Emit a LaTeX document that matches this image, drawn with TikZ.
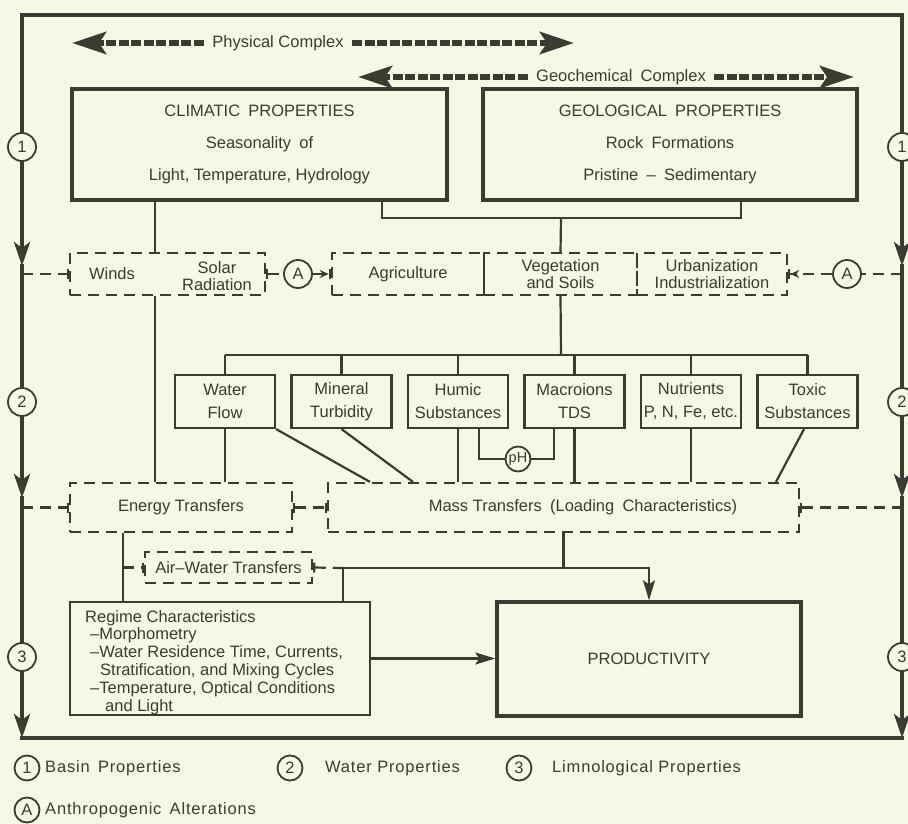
\documentclass[tikz,border=0pt]{standalone}
\usepackage{fontspec}
\setmainfont{Liberation Sans}
\usetikzlibrary{arrows.meta}
\definecolor{paper}{RGB}{246,247,229}
\definecolor{ink}{RGB}{58,60,50}
\begin{document}
\begin{tikzpicture}[x=1pt,y=-1pt,
  every node/.style={text=ink, font=\fontsize{16.5}{19}\selectfont},
  bigbox/.style={draw=ink, line width=3.4pt, inner sep=0pt, align=center, font=\fontsize{16.5}{32}\selectfont},
  smallbox/.style={draw=ink, line width=2.2pt, minimum width=100pt, minimum height=53pt, inner sep=0pt, align=center, font=\fontsize{16.5}{23}\selectfont},
  dashbox/.style={draw=ink, line width=2.2pt, dash pattern=on 11pt off 7pt, inner sep=0pt, align=center, font=\fontsize{16.5}{17}\selectfont},
  txt/.style={inner sep=0pt, align=center, font=\fontsize{16.5}{17}\selectfont},
  link/.style={draw=ink, line width=2.2pt},
  dlink/.style={link, dash pattern=on 11pt off 7pt},
  frameline/.style={draw=ink, line width=3.6pt, line cap=rect},
  badge/.style={circle, draw=ink, line width=1.8pt, fill=paper, minimum size=28pt, inner sep=0pt},
  keybadge/.style={badge, minimum size=25pt},
  bigbar/.style={draw=ink, line width=6pt, dash pattern=on 10pt off 2.5pt},
  keytext/.style={anchor=west, inner sep=0pt, font=\fontsize{16.5}{18}\selectfont\addfontfeatures{LetterSpace=5}},
  flowtip/.style={-{Stealth[length=20pt,width=12pt,inset=4pt]}},
  frametip/.style={-{Stealth[length=24pt,width=16pt,inset=6pt]}},
  bigtip/.style={-{Stealth[length=34pt,width=22pt,inset=7pt]}},
  endbar/.style={-{Bar[width=10pt]}},
  startbar/.style={{Bar[width=10pt]}-},
  bothbar/.style={{Bar[width=10pt]}-{Bar[width=10pt]}},
  arrowbar/.style={-{Stealth[length=9pt,width=8pt] Bar[width=10pt]}}
]
% paper
\fill[paper] (0,0) rectangle (908,824);
\useasboundingbox (0,0) rectangle (908,824);

% ---------- top: complexes ----------
\node (phys) at (278,43) {Physical Complex};
\coordinate (physL) at (72,43);
\coordinate (physR) at (574,43);
\draw[bigbar, bigtip] ([xshift=-5pt]phys.west) -- (physL);
\draw[bigbar, bigtip] ([xshift=5pt]phys.east) -- (physR);

\node (geoc) at (621,77) {Geochemical\enspace Complex};
\coordinate (geocL) at (358,77);
\coordinate (geocR) at (854,77);
\draw[bigbar, bigtip] ([xshift=-5pt]geoc.west) -- (geocL);
\draw[bigbar, bigtip] ([xshift=5pt]geoc.east) -- (geocR);

% ---------- property boxes ----------
\node[bigbox, minimum width=375pt, minimum height=111pt] (clim) at (259.5,144.5)
  {CLIMATIC\enspace PROPERTIES\\Seasonality\enspace of\\Light, Temperature, Hydrology};
\node[bigbox, minimum width=374pt, minimum height=111pt] (geol) at (670,144.5)
  {GEOLOGICAL\enspace PROPERTIES\\Rock\enspace Formations\\Pristine\enspace --\enspace Sedimentary};

% ---------- first dashed row ----------
\node[dashbox, minimum width=195pt, minimum height=42pt] (ws) at (167.5,274) {};
\node[txt] (winds) at (112,274) {Winds};
\node[txt] (solar) at (217,276) {Solar\\Radiation};
\node[dashbox, minimum width=152pt, minimum height=42pt] (agri) at (408,274) {Agriculture};
\node[dashbox, minimum width=153pt, minimum height=42pt] (veg) at (560.5,274) {Vegetation\\and Soils};
\node[dashbox, minimum width=150pt, minimum height=42pt] (urb) at (712,274) {Urbanization\\Industrialization};
\node[badge] (A1) at (298,274) {A};
\node[badge] (A2) at (847,274) {A};

% ---------- water property boxes ----------
\node[smallbox] (water)   at (225,401.5)   {Water\\Flow};
\node[smallbox] (mineral) at (341.5,401.5) {Mineral\\Turbidity};
\node[smallbox] (humic)   at (458,401.5)   {Humic\\Substances};
\node[smallbox] (macro)   at (574.5,401.5) {Macroions\\TDS};
\node[smallbox] (nutr)    at (691,401.5)   {Nutrients\\P, N, Fe, etc.};
\node[smallbox] (toxic)   at (807.5,401.5) {Toxic\\Substances};
\node[circle, draw=ink, line width=1.8pt, minimum size=25pt, inner sep=0pt, font=\fontsize{14.5}{16}\selectfont] (ph) at (518,459) {pH};

% ---------- transfer row ----------
\node[dashbox, minimum width=222pt, minimum height=49pt] (energy) at (181,507.5) {Energy Transfers};
\node[dashbox, minimum width=471pt, minimum height=49pt] (mass) at (563.5,507.5) {};
\node[txt] (masstxt) at (583,507.5) {Mass Transfers\enspace (Loading\enspace Characteristics)};
\node[dashbox, minimum width=167pt, minimum height=31pt] (aw) at (228.5,567.5) {Air--Water Transfers};

% ---------- lake boxes ----------
\node[draw=ink, line width=2.2pt, minimum width=300pt, minimum height=113pt, inner sep=0pt] (regime) at (220,658.5) {};
\node[anchor=north west, align=left, inner sep=0pt, font=\fontsize{16.5}{17.8}\selectfont] (regtxt) at (85,610)
  {Regime Characteristics\\
   \hspace*{5pt}--Morphometry\\
   \hspace*{5pt}--Water Residence Time, Currents,\\
   \hspace*{15pt}Stratification, and Mixing Cycles\\
   \hspace*{5pt}--Temperature, Optical Conditions\\
   \hspace*{20pt}and Light};
\node[bigbox, minimum width=304pt, minimum height=114pt] (prod) at (649,659) {PRODUCTIVITY};

% ---------- helper columns and junctions ----------
\coordinate (xa) at (155,0);
\coordinate (xb) at (382,0);
\coordinate (xc) at (741,0);
\coordinate (j1) at (561,218);
\coordinate (bus) at (561,355);
\coordinate (m1) at (370,0);
\coordinate (m2) at (413,0);
\coordinate (h2) at (479,0);
\coordinate (k1) at (554,0);
\coordinate (t1) at (804,0);
\coordinate (t2) at (776,0);
\coordinate (xe) at (123,0);
\coordinate (j2) at (343,568);

% ---------- solid connectors ----------
\draw[link] (clim.south -| xa) -- (ws.north -| xa);
\draw[link] (ws.south -| xa) -- (energy.north -| xa);
\draw[link] (clim.south -| xb) |- (j1) -| (geol.south -| xc);
\draw[link] (j1) -- (veg.north);
\draw[link] (veg.south) -- (bus);
\draw[link] (water.north |- bus) -- (toxic.north |- bus);
\foreach \b in {water,mineral,humic,macro,nutr,toxic}
  \draw[link] (\b.north |- bus) -- (\b.north);

\draw[link] (water.south) -- (energy.north -| water.south);
\draw[link] (water.south east) -- (mass.north -| m1);
\draw[link] (mineral.south) -- (mass.north -| m2);
\draw[link] (humic.south) -- (mass.north -| humic.south);
\draw[link] (humic.south -| h2) |- (ph.west);
\draw[link] (ph.east) -| (macro.south -| k1);
\draw[link] (macro.south) -- (mass.north -| macro.south);
\draw[link] (nutr.south) -- (mass.north -| nutr.south);
\draw[link] (toxic.south -| t1) -- (mass.north -| t2);

\draw[link] (energy.south -| xe) -- (regime.north -| xe);
\draw[link] (j2) -- (regime.north -| j2);
\draw[link] (mass.south) -- (mass.south |- j2);
\draw[link, flowtip] (j2) -| (prod.north);
\draw[link, flowtip] (regime.east) -- (prod.west |- regime.east);

% ---------- frame (basin / water / limnological levels) ----------
\coordinate (tl) at (22,15);
\coordinate (tr) at (902,15);
\coordinate (bl) at (22,738);
\coordinate (br) at (902,738);
\coordinate (la1) at (22,266);
\coordinate (la2) at (22,498);
\coordinate (ra1) at (902,266);
\coordinate (ra2) at (902,498);
\coordinate (lr1) at (22,274);
\coordinate (rr1) at (902,274);
\coordinate (lr2) at (22,507.5);
\coordinate (rr2) at (902,507.5);

\draw[frameline] (bl) -- (br);
\draw[frameline] (tl) -- (tr);
\node[badge] (L1) at (22,147) {1};
\node[badge] (L2) at (22,402) {2};
\node[badge] (L3) at (22,657) {3};
\node[badge] (R1) at (902,147) {1};
\node[badge] (R2) at (902,402) {2};
\node[badge] (R3) at (902,657) {3};
\draw[frameline] (tl) -- (L1);
\draw[frameline] (tr) -- (R1);
\draw[frameline, frametip] (L1) -- (la1);
\draw[frameline, frametip] (R1) -- (ra1);
\draw[frameline] (la1) -- (L2);
\draw[frameline] (ra1) -- (R2);
\draw[frameline, frametip] (L2) -- (la2);
\draw[frameline, frametip] (R2) -- (ra2);
\draw[frameline] (la2) -- (L3);
\draw[frameline] (ra2) -- (R3);
\draw[frameline, frametip] (L3) -- (bl);
\draw[frameline, frametip] (R3) -- (br);

% ---------- dashed connectors ----------
\draw[dlink, endbar] (lr1) -- (ws.west);
\draw[dlink, startbar] (ws.east) -- (A1);
\draw[dlink, arrowbar] (A1) -- (agri.west);
\draw[dlink] (rr1) -- (A2);
\draw[dlink, arrowbar] (A2) -- (urb.east);

\draw[dlink, endbar] (lr2) -- (energy.west);
\draw[dlink, bothbar] (energy.east) -- (mass.west);
\draw[dlink, startbar] (mass.east) -- (rr2);

\draw[dlink, endbar] (aw.west -| xe) -- (aw.west);
\draw[dlink, startbar] (aw.east) -- (j2);

% ---------- key ----------
\node[keybadge] (key1) at (27,768) {1};
\node[keytext] (key1t) at (45,768) {Basin\enspace Properties};
\node[keybadge] (key2) at (290,768) {2};
\node[keytext] (key2t) at (325,768) {Water Properties};
\node[keybadge] (key3) at (519,768) {3};
\node[keytext] (key3t) at (552,768) {Limnological Properties};
\node[keybadge] (keyA) at (27,810) {A};
\node[keytext] (keyAt) at (45,810) {Anthropogenic\enspace Alterations};
\end{tikzpicture}
\end{document}
